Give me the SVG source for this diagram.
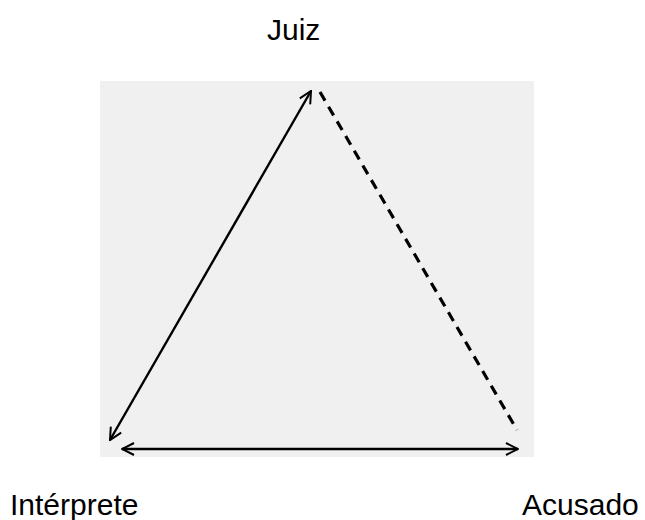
<svg xmlns="http://www.w3.org/2000/svg" width="645" height="520" viewBox="0 0 645 520">
<style>
.lbl{font-family:"Liberation Sans",Arial,sans-serif;font-size:30px;fill:#000}
.ln{stroke:#000;stroke-width:2.4;fill:none}
.ds{stroke:#000;stroke-width:3.2;fill:none;stroke-dasharray:10 7}
</style>
<defs>
<marker id="ah" viewBox="0 0 14 14" refX="13" refY="7" markerWidth="14" markerHeight="14" markerUnits="userSpaceOnUse" orient="auto-start-reverse">
<path d="M1,1 L13,7 L1,13" fill="none" stroke="#000" stroke-width="2"/>
</marker>
</defs>
<rect x="100" y="81" width="434" height="376" fill="#f0f0f0"/>
<g id="connectors">
<line class="ln" x1="110" y1="440" x2="311" y2="91" marker-start="url(#ah)" marker-end="url(#ah)"/>
<line class="ln" x1="122" y1="449" x2="518" y2="449" marker-start="url(#ah)" marker-end="url(#ah)"/>
<line class="ds" x1="320" y1="92" x2="517" y2="430"/>
</g>
<g id="juiz"><text class="lbl" x="267" y="40">Juiz</text></g>
<g id="interprete"><text class="lbl" x="10" y="515">Intérprete</text></g>
<g id="acusado"><text class="lbl" x="522" y="515">Acusado</text></g>
</svg>
